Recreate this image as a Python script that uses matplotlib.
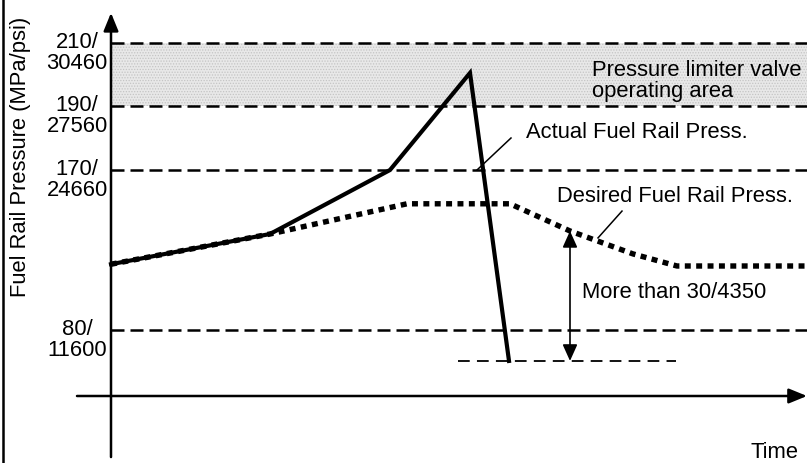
import numpy as np
import matplotlib.pyplot as plt
from matplotlib.lines import Line2D

plt.rcParams['font.family'] = ['Liberation Sans', 'DejaVu Sans']
plt.rcParams['hatch.color'] = '#c4c4c4'
plt.rcParams['hatch.linewidth'] = 0.6

# Pressure levels (MPa) with the MPa/psi labels
levels = [210, 190, 170, 80]
level_labels = ['210/\n30460', '190/\n27560', '170/\n24660', '80/\n11600']
limiter_band = (190, 210)

# Actual and desired fuel rail pressure (time in arbitrary units, pressure in MPa)
actual_t = [0, 15.9, 27.9, 35.9, 39.8]
actual_p = [117, 134, 170, 200.5, 42.5]
desired_t = [0, 15.9, 29.6, 39.9, 45.9, 52.2, 56.6, 69.6]
desired_p = [117, 134, 151, 151, 135.7, 122.8, 116, 116]

# Lower reference (actual pressure after drop) and the gap marker
floor_t = [34.7, 56.5]
floor_p = 42.5
gap_t = 45.9
gap_top = 135.7

# The chart is schematic: the pressure axis is piecewise linear
scale_mpa = np.array([-100, 0, 80, 170, 190, 210, 240])
scale_px = np.array([479.5, 397, 331, 171, 107, 44, -51.3])


def forward(v):
    return -np.interp(v, scale_mpa, scale_px)


def inverse(u):
    return np.interp(-np.asarray(u), scale_px[::-1], scale_mpa[::-1])


fig = plt.figure(figsize=(8.07, 4.64), dpi=100)
ax = fig.add_axes([0, 0, 1, 1])
ax.set_yscale('function', functions=(forward, inverse))
t_max = 69.6
fs = 15.8

# Pressure limiter valve operating area
ax.fill_between([0, t_max], limiter_band[0], limiter_band[1], facecolor='#e8e8e8',
                hatch='......', lw=0, zorder=1)

for lv, lab in zip(levels, level_labels):
    ax.plot([0, t_max], [lv, lv], color='black', lw=1.8, dashes=(5.2, 2.4), zorder=2)
    ax.annotate(lab, xy=(-3.4, lv), xytext=(0, -6.5), textcoords='offset points',
                ha='center', va='center', fontsize=fs, linespacing=0.98)

ax.plot(floor_t, [floor_p, floor_p], color='black', lw=1.3, dashes=(6.5, 4), zorder=2)

ax.plot(desired_t, desired_p, color='black', lw=3.9, dashes=(1.1, 1.0),
        dash_capstyle='butt', zorder=3)
ax.plot(actual_t, actual_p, color='black', lw=3.0, solid_joinstyle='miter', zorder=4)

# Axes drawn as arrows
ax.annotate('', xy=(0, 219.5), xytext=(0, -74),
            arrowprops=dict(arrowstyle='-|>,head_length=1.1,head_width=0.45', lw=1.8,
                            color='black', shrinkA=0, shrinkB=0))
ax.annotate('', xy=(t_max, 0), xytext=(-3.4, 0),
            arrowprops=dict(arrowstyle='-|>,head_length=1.1,head_width=0.45', lw=1.8,
                            color='black', shrinkA=0, shrinkB=0))

# Gap between desired and actual
ax.annotate('', xy=(gap_t, gap_top), xytext=(gap_t, floor_p),
            arrowprops=dict(arrowstyle='<|-|>,head_length=1.0,head_width=0.45', lw=1.2,
                            color='black', shrinkA=0, shrinkB=0))

# Leader lines
ax.plot([40.0, 36.6], [180, 170], color='black', lw=1.1, zorder=5)
ax.plot([51.1, 48.7], [146.9, 131.8], color='black', lw=1.1, zorder=5)

ax.text(48.1, 198.3, 'Pressure limiter valve\noperating area', ha='left', va='center',
        fontsize=fs, linespacing=1.0)
ax.text(41.5, 181.9, 'Actual Fuel Rail Press.', ha='left', va='center', fontsize=fs)
ax.text(44.6, 155.4, 'Desired Fuel Rail Press.', ha='left', va='center', fontsize=fs)
ax.text(47.1, 101.4, 'More than 30/4350', ha='left', va='center', fontsize=fs)
ax.text(68.7, -66.7, 'Time', ha='right', va='center', fontsize=fs)
ax.text(-9.1, 174.4, 'Fuel Rail Pressure (MPa/psi)', rotation=90, ha='center', va='center',
        fontsize=fs)

ax.set_xlim(-11.1, t_max)
ax.set_ylim(float(inverse(-464)), float(inverse(0)))
ax.axis('off')

# Left frame edge
fig.add_artist(Line2D([0.004, 0.004], [0, 1], transform=fig.transFigure, color='black', lw=1.8))

fig.savefig('out.png', dpi=100)
